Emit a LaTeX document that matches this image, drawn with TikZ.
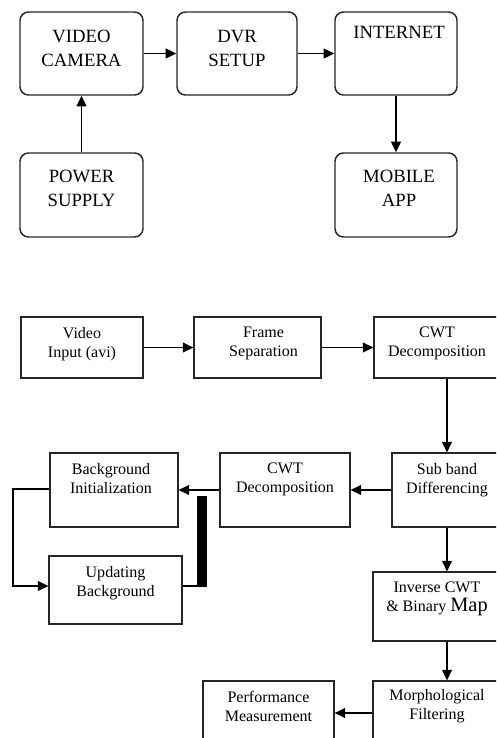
\documentclass[tikz,border=0pt]{standalone}
\usepackage{fontspec}
\setmainfont{Liberation Serif}
\usetikzlibrary{arrows.meta,positioning}
\def\px{0.025cm} % 1 pixel
\tikzset{
	rbox/.style={draw=black!85,line width=1.05pt,rounded corners=6pt},
	sbox/.style={draw=black!85,line width=0.85pt},
	ttop/.style={anchor=north,align=center,inner sep=0pt,font=\fontsize{13.3}{17}\selectfont},
	tbot/.style={anchor=north,align=center,inner sep=0pt,font=\fontsize{11.4}{13.5}\selectfont,yshift=-10.5*\px},
	arr/.style={-{Triangle[length=7.5pt,width=7pt]},line width=1pt},
	ln/.style={line width=0.8pt}
}
\begin{document}
\begin{tikzpicture}[x=\px,y=-\px]
				\path[use as bounding box] (0,0) rectangle (496,738);
				\clip (0,0) rectangle (496,738);
				% so do tren
				\node[rbox,minimum width=123*\px,minimum height=83*\px,label={[ttop,yshift=-19*\px]north:VIDEO\\CAMERA}] (cam) at (81.5,53.5) {};
				\node[rbox,minimum width=120*\px,minimum height=83*\px,label={[ttop,yshift=-19*\px]north:DVR\\SETUP}] (dvr) at (237,53.5) {};
				\node[rbox,minimum width=122*\px,minimum height=83*\px,label={[ttop,yshift=-15*\px,xshift=3*\px]north:INTERNET}] (net) at (396,53.5) {};
				\node[rbox,minimum width=123*\px,minimum height=84*\px,label={[ttop,yshift=-18*\px]north:POWER\\SUPPLY}] (pwr) at (81.5,195) {};
				\node[rbox,minimum width=122*\px,minimum height=84*\px,label={[ttop,yshift=-18*\px,xshift=3*\px]north:MOBILE\\APP}] (app) at (396,195) {};
				\draw[arr] (cam)--(dvr);
				\draw[arr] (dvr)--(net);
				\draw[arr] (pwr)--(cam);
				\draw[arr] (net)--(app);
				% so do duoi
				\node[sbox,minimum width=122*\px,minimum height=61*\px,label={[tbot]north:Video\\Input (avi)}] (vin) at (82,347.5) {};
				\node[sbox,minimum width=127*\px,minimum height=61*\px,label={[tbot,xshift=6*\px]north:Frame\\Separation}] (frm) at (257.5,347.5) {};
				\node[sbox,minimum width=126*\px,minimum height=61*\px,label={[tbot]north:CWT\\Decomposition}] (cw1) at (437,347.5) {};
				\node[sbox,minimum width=110*\px,minimum height=74*\px,label={[tbot]north:Sub band\\Differencing}] (sub) at (447,490) {};
				\node[sbox,minimum width=130*\px,minimum height=74*\px,label={[tbot]north:CWT\\Decomposition}] (cw2) at (285,490) {};
				\node[sbox,minimum width=128*\px,minimum height=74*\px,label={[tbot,xshift=-3*\px]north:Background\\Initialization}] (bgi) at (114,490) {};
				\node[sbox,minimum width=133*\px,minimum height=68*\px,label={[tbot]north:Updating\\Background}] (upd) at (115.5,590) {};
				\node[sbox,minimum width=128*\px,minimum height=69*\px,label={[tbot]north:Inverse CWT\\\& Binary {\fontsize{14.5}{14.5}\selectfont Map}}] (inv) at (437,606.5) {};
				\node[sbox,minimum width=128*\px,minimum height=64*\px,label={[tbot,yshift=2*\px]north:Morphological\\Filtering}] (mor) at (437,713) {};
				\node[sbox,minimum width=131*\px,minimum height=64*\px,label={[tbot]north:Performance\\Measurement}] (prf) at (268.5,713) {};
				\node[fill=black,inner sep=0pt,minimum width=10*\px,minimum height=91*\px] (bar) at (202,541.5) {};
				\coordinate (lt) at (13,489); % goc tren
				\coordinate (lb) at (13,586); % goc duoi
				\draw[arr] (vin)--(frm);
				\draw[arr] (frm)--(cw1);
				\draw[arr] (cw1.south -| sub.north)--(sub.north);
				\draw[arr] (sub)--(cw2);
				\draw[arr] (cw2)--(bgi);
				\draw[arr,line width=0.8pt] (bgi.west |- lt)--(lt)--(lb)--(upd.west |- lb);
				\draw[ln] (upd.east |- lb)--(bar.west |- lb);
				\draw[arr] (sub.south)--(sub.south |- inv.north);
				\draw[arr] (inv.south -| sub.south)--(mor.north -| sub.south);
				\draw[arr] (mor)--(prf);
\end{tikzpicture}
\end{document}
